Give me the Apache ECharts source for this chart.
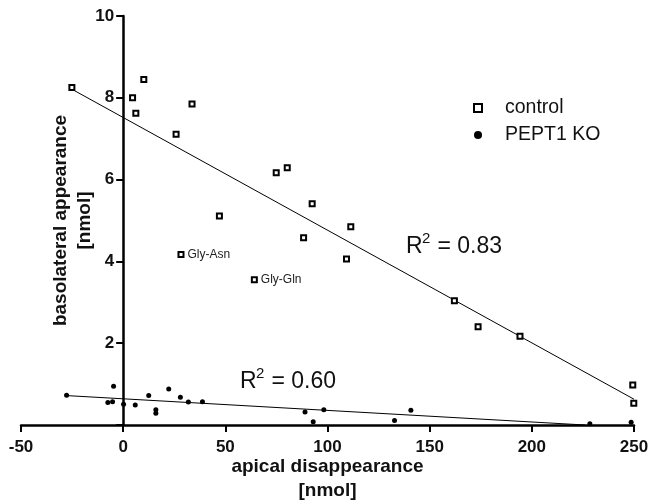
<!DOCTYPE html>
<html>
<head>
<meta charset="utf-8">
<script src="https://cdn.jsdelivr.net/npm/echarts@6/dist/echarts.min.js"></script>
<style>
  html, body { margin: 0; padding: 0; background: #fff; }
  #chart { width: 649px; height: 504px; }
</style>
</head>
<body>
<div id="chart"></div>
<script>
// x ticks and y ticks
const xTicks = [-50, 0, 50, 100, 150, 200, 250]
const yTicks = [0, 2, 4, 6, 8, 10]

// control (wild type) points: [apical disappearance, basolateral appearance]
const controlPoints = [
  [-25.1, 8.25], [4.6, 8.0], [6.2, 7.62], [10.1, 8.45], [33.7, 7.85],
  [25.9, 7.11], [74.9, 6.17], [80.3, 6.29], [47.1, 5.11], [92.5, 5.41],
  [88.3, 4.58], [111.4, 4.85], [109.3, 4.06], [162.1, 3.04], [173.7, 2.40],
  [194.2, 2.17], [249.4, 0.98], [249.9, 0.53]
]
// labelled control points
const labelledNames = ['Gly-Asn', 'Gly-Gln']
const labelledPoints = [[28.3, 4.17], [64.2, 3.55]]

// PEPT1 KO points
const koPoints = [
  [-27.7, 0.73], [-4.7, 0.95], [-7.5, 0.55], [-5.2, 0.57], [0.2, 0.51],
  [5.9, 0.49], [12.5, 0.72], [22.3, 0.88], [16.0, 0.37], [16.0, 0.29],
  [28.0, 0.68], [31.9, 0.56], [38.8, 0.57], [89.0, 0.32], [93.0, 0.08],
  [98.2, 0.37], [140.8, 0.36], [132.8, 0.11], [228.4, 0.03], [248.6, 0.07]
]

// regression line end points
const controlFit = [[-25.1, 8.21], [250, 0.63]]
const koFit = [[-28, 0.72], [226, 0.0]]

const chart = echarts.init(document.getElementById('chart'))
const font = 'Liberation Sans, Arial, sans-serif'

const gridLeft = 21
const gridRight = 15
// y axis sits at x = 0, so shift it inside the grid
const plotWidth = 649 - gridLeft - gridRight
const yAxisShift = plotWidth * (0 - xTicks[0]) / (xTicks[xTicks.length - 1] - xTicks[0])

const controlData = controlPoints.map(p => ({ value: p }))
labelledPoints.forEach((p, i) => {
  controlData.push({
    value: p,
    label: {
      show: true,
      position: 'right',
      distance: 3,
      formatter: labelledNames[i],
      color: '#222',
      fontSize: 12,
      fontFamily: font
    }
  })
})

// R^2 annotation built from three text pieces
function rSquared(left, top, value) {
  return {
    type: 'group',
    left: left,
    top: top,
    children: [
      { type: 'text', x: 0, y: 0, style: { text: 'R', fontSize: 23, fontFamily: font, fill: '#111' } },
      { type: 'text', x: 16, y: -4, style: { text: '2', fontSize: 15, fontFamily: font, fill: '#111' } },
      { type: 'text', x: 25, y: 0, style: { text: ' = ' + value, fontSize: 23, fontFamily: font, fill: '#111' } }
    ]
  }
}

chart.setOption({
  animation: false,
  backgroundColor: '#fff',
  grid: {
    left: gridLeft,
    right: gridRight,
    top: 16,
    bottom: 79,
    outerBoundsMode: 'none',
    containLabel: false
  },
  legend: {
    orient: 'vertical',
    left: 468,
    top: 93,
    itemWidth: 8,
    itemHeight: 8,
    itemGap: 7,
    textStyle: {
      fontSize: 19.5,
      fontFamily: font,
      color: '#111',
      padding: [0, 0, 0, 18]
    },
    data: [
      {
        name: 'control',
        icon: 'rect',
        itemStyle: { color: '#fff', borderColor: '#000', borderWidth: 2 }
      },
      {
        name: 'PEPT1 KO',
        icon: 'circle',
        itemStyle: { color: '#000', borderWidth: 0 }
      }
    ]
  },
  xAxis: {
    type: 'value',
    min: xTicks[0],
    max: xTicks[xTicks.length - 1],
    interval: 50,
    name: 'apical disappearance\n[nmol]',
    nameLocation: 'middle',
    nameGap: 30,
    nameMoveOverlap: false,
    nameTextStyle: {
      fontSize: 19,
      fontWeight: 'bold',
      fontFamily: font,
      color: '#111',
      lineHeight: 24
    },
    axisLine: {
      onZero: false,
      lineStyle: { color: '#000', width: 2.5 }
    },
    axisTick: {
      length: 7,
      lineStyle: { color: '#000', width: 2 }
    },
    axisLabel: {
      fontSize: 17,
      fontWeight: 'bold',
      fontFamily: font,
      color: '#111',
      margin: 14
    },
    splitLine: { show: false }
  },
  yAxis: {
    type: 'value',
    min: yTicks[0],
    max: yTicks[yTicks.length - 1],
    interval: 2,
    offset: -yAxisShift,
    name: 'basolateral appearance\n[nmol]',
    nameLocation: 'middle',
    nameGap: 26,
    nameMoveOverlap: false,
    nameTextStyle: {
      fontSize: 19,
      fontWeight: 'bold',
      fontFamily: font,
      color: '#111',
      lineHeight: 24
    },
    axisLine: {
      show: true,
      onZero: false,
      lineStyle: { color: '#000', width: 2.5 }
    },
    axisTick: {
      show: true,
      length: 7,
      lineStyle: { color: '#000', width: 2 }
    },
    axisLabel: {
      fontSize: 17,
      fontWeight: 'bold',
      fontFamily: font,
      color: '#111',
      margin: 9,
      formatter: v => (v === 0 ? '' : String(v))
    },
    splitLine: { show: false }
  },
  series: [
    {
      name: 'control fit',
      type: 'line',
      data: controlFit,
      symbol: 'none',
      silent: true,
      lineStyle: { color: '#000', width: 1 },
      z: 1
    },
    {
      name: 'KO fit',
      type: 'line',
      data: koFit,
      symbol: 'none',
      silent: true,
      lineStyle: { color: '#000', width: 1 },
      z: 1
    },
    {
      name: 'control',
      type: 'scatter',
      symbol: 'rect',
      symbolSize: 5,
      data: controlData,
      itemStyle: { color: '#fff', borderColor: '#000', borderWidth: 2, opacity: 1 },
      z: 3
    },
    {
      name: 'PEPT1 KO',
      type: 'scatter',
      symbol: 'circle',
      symbolSize: 5,
      data: koPoints,
      itemStyle: { color: '#000', opacity: 1 },
      z: 3
    }
  ],
  graphic: [
    rSquared(406, 231, '0.83'),
    rSquared(240, 366, '0.60')
  ]
})
</script>
</body>
</html>
